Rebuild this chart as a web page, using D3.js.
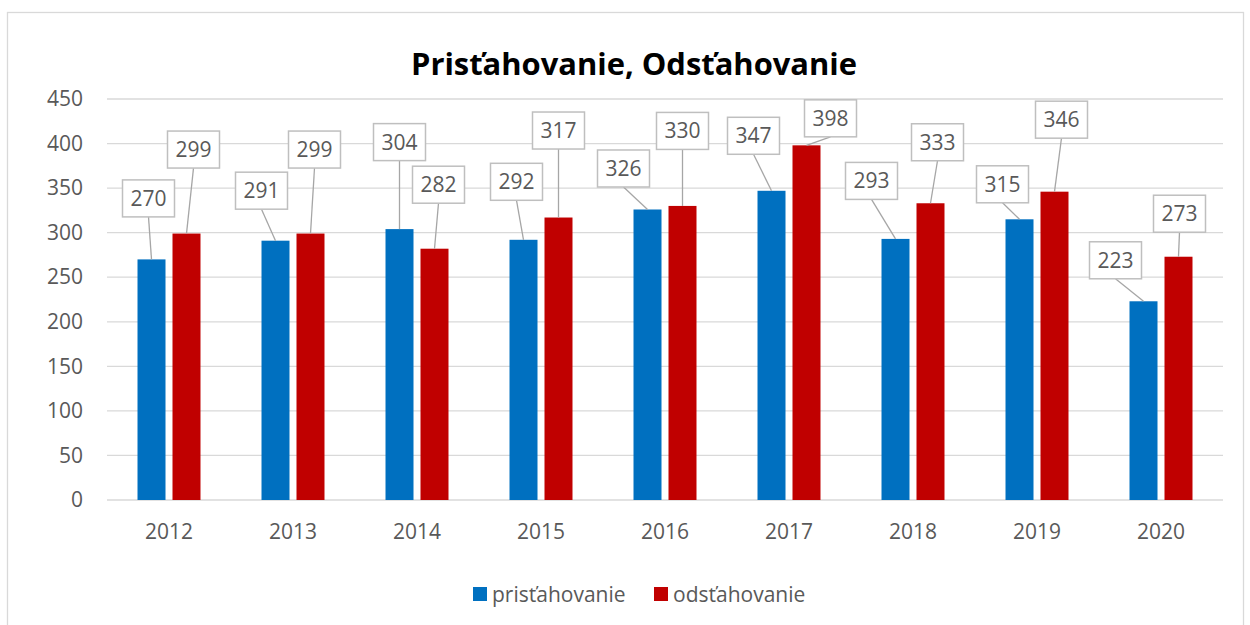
<!DOCTYPE html>
<html>
<head>
<meta charset="utf-8">
<script src="https://cdn.jsdelivr.net/npm/d3@7"></script>
<style>
  body { margin: 0; background: #fff; }
  svg { display: block; font-family: "Open Sans", sans-serif; }
</style>
</head>
<body>
<svg id="chart" width="1250" height="625"></svg>
<script>
// data
var years = ['2012', '2013', '2014', '2015', '2016', '2017', '2018', '2019', '2020'];
var prist = [270, 291, 304, 292, 326, 347, 293, 315, 223];
var odst = [299, 299, 282, 317, 330, 398, 333, 346, 273];
var seriesNames = ['prisťahovanie', 'odsťahovanie'];
var yTicks = [0, 50, 100, 150, 200, 250, 300, 350, 400, 450];

// hand-placed data labels (offset of the box centre from the bar top, px)
var nudgePrist = [[-3, -61], [-14, -50], [0, -87], [-7, -58], [-24, -41], [-18, -55], [-24, -58], [-17, -35], [-28, -41]];
var nudgeOdst = [[7, -84], [4, -84], [4, -64], [0, -87], [0, -75], [24, -27], [7, -61], [7, -72], [1, -43]];

var colors = ['#0070c0', '#c00000'];
var textColor = '#595959';

var W = 1250, H = 625;
var margin = { left: 107, right: 27, top: 99, bottom: 125 };

var svg = d3.select('#chart');

// outer frame
svg.append('rect')
  .attr('x', 7.5).attr('y', 12.5)
  .attr('width', 1236).attr('height', 630)
  .attr('fill', 'none')
  .attr('stroke', '#d9d9d9')
  .attr('stroke-width', 1.3);

var x0 = d3.scaleBand()
  .domain(years)
  .range([margin.left, W - margin.right])
  .paddingInner(0.492)
  .paddingOuter(0.246);

var x1 = d3.scaleBand()
  .domain([0, 1])
  .range([0, x0.bandwidth()])
  .paddingInner(0.2);

var y = d3.scaleLinear()
  .domain([0, 450])
  .range([H - margin.bottom, margin.top]);

// gridlines
svg.append('g')
  .selectAll('line')
  .data(yTicks)
  .join('line')
  .attr('x1', margin.left).attr('x2', W - margin.right)
  .attr('y1', function(d) { return y(d); })
  .attr('y2', function(d) { return y(d); })
  .attr('stroke', '#d9d9d9')
  .attr('stroke-width', 1.3);

// y axis
var yAxis = svg.append('g')
  .attr('transform', 'translate(' + (margin.left - 24) + ',0)')
  .call(d3.axisLeft(y).tickValues(yTicks).tickSize(0).tickPadding(0));
yAxis.select('.domain').remove();
yAxis.selectAll('text')
  .attr('fill', textColor)
  .attr('font-size', 21)
  .attr('font-family', '"Open Sans", sans-serif');

// x axis
var xAxis = svg.append('g')
  .attr('transform', 'translate(0,' + y(0) + ')')
  .call(d3.axisBottom(x0).tickSize(0).tickPadding(24));
xAxis.select('.domain').remove();
xAxis.selectAll('text')
  .attr('fill', textColor)
  .attr('font-size', 21)
  .attr('font-family', '"Open Sans", sans-serif');

// bars + labels
var series = [prist, odst];
var nudges = [nudgePrist, nudgeOdst];

series.forEach(function(vals, si) {
  var rows = vals.map(function(v, i) {
    var cx = x0(years[i]) + x1(si) + x1.bandwidth() / 2;
    return { v: v, year: years[i], cx: cx, top: y(v), lx: cx + nudges[si][i][0], ly: y(v) + nudges[si][i][1] };
  });

  svg.append('g')
    .selectAll('rect')
    .data(rows)
    .join('rect')
    .attr('x', function(d) { return x0(d.year) + x1(si); })
    .attr('y', function(d) { return y(d.v); })
    .attr('width', x1.bandwidth())
    .attr('height', function(d) { return y(0) - y(d.v); })
    .attr('fill', colors[si]);

  var boxW = 52, boxH = 37;
  var lab = svg.append('g').selectAll('g')
    .data(rows)
    .join('g');

  lab.append('line')
    .attr('x1', function(d) { return d.lx; })
    .attr('y1', function(d) { return d.ly + boxH / 2; })
    .attr('x2', function(d) { return d.cx; })
    .attr('y2', function(d) { return d.top; })
    .attr('stroke', '#a6a6a6')
    .attr('stroke-width', 1.3);

  lab.append('rect')
    .attr('x', function(d) { return d.lx - boxW / 2; })
    .attr('y', function(d) { return d.ly - boxH / 2; })
    .attr('width', boxW).attr('height', boxH)
    .attr('fill', '#fff')
    .attr('stroke', '#bfbfbf')
    .attr('stroke-width', 1.5);

  lab.append('text')
    .attr('x', function(d) { return d.lx; })
    .attr('y', function(d) { return d.ly; })
    .attr('dy', '0.36em')
    .attr('text-anchor', 'middle')
    .attr('font-size', 21)
    .attr('fill', textColor)
    .text(function(d) { return d.v; });
});

// title
svg.append('text')
  .attr('x', 634).attr('y', 75)
  .attr('text-anchor', 'middle')
  .attr('font-size', 30)
  .attr('font-weight', 'bold')
  .attr('fill', '#000')
  .attr('textLength', 446)
  .attr('lengthAdjust', 'spacingAndGlyphs')
  .text('Prisťahovanie, Odsťahovanie');

// legend
var legendX = [473, 654];
var leg = svg.append('g').selectAll('g')
  .data(seriesNames)
  .join('g')
  .attr('transform', function(d, i) { return 'translate(' + legendX[i] + ',587)'; });
leg.append('rect')
  .attr('width', 14).attr('height', 14)
  .attr('fill', function(d, i) { return colors[i]; });
leg.append('text')
  .attr('x', 19).attr('y', 7)
  .attr('dy', '0.36em')
  .attr('font-size', 21)
  .attr('fill', textColor)
  .text(function(d) { return d; });
</script>
</body>
</html>
